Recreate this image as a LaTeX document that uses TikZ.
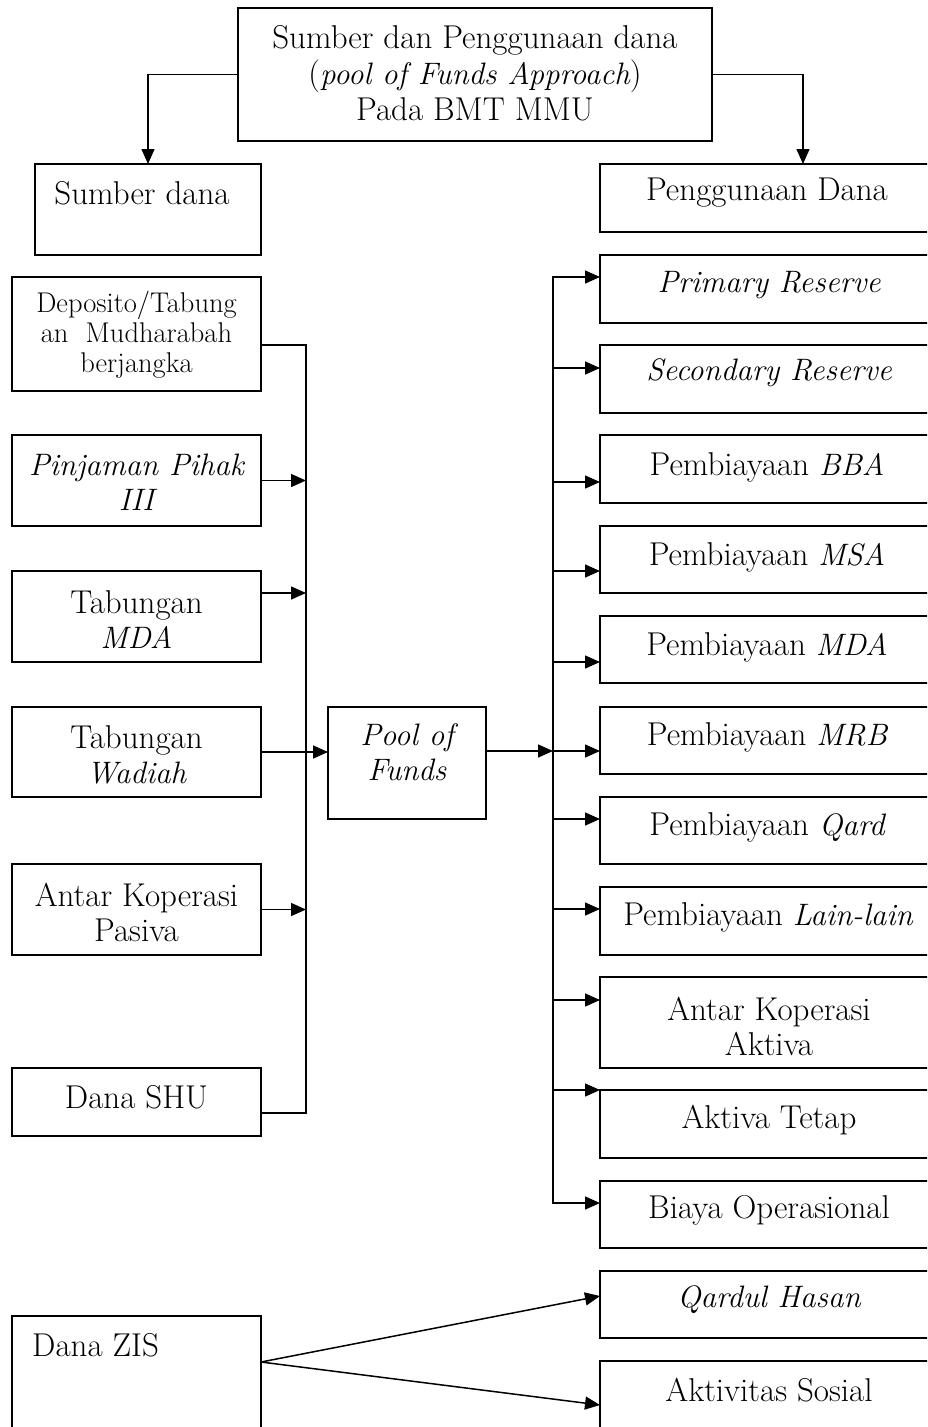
\documentclass[tikz,border=0pt]{standalone}
\usepackage{fontspec}
\usetikzlibrary{arrows.meta}
\newcommand\ital[1]{{\fontsize{31}{35}\selectfont\itshape #1}}
\begin{document}
\begin{tikzpicture}[x=1pt,y=-1pt,
  box/.style={draw, line width=1.5pt, inner sep=0pt, outer sep=0pt},
  lbl/.style={inner sep=0pt, align=center, font=\fontsize{33}{35}\selectfont},
  arr/.style={line width=1.5pt, -{Triangle[length=15pt,width=13pt]}},
  ln/.style={line width=1.5pt, line cap=rect}]
\clip (0,0) rectangle (927,1427);
% ---------- boxes ----------
\node[box, minimum width=474pt, minimum height=133pt] (top) at (475,74.5) {};
\node[box, minimum width=226pt, minimum height=91pt] (sumber) at (148,209.5) {};
\node[box, minimum width=340pt, minimum height=68pt] (peng) at (770,198) {};
% left column
\node[box, minimum width=249pt, minimum height=114pt] (deposito) at (136.5,334) {};
\node[box, minimum width=249pt, minimum height=91pt] (pinjaman) at (136.5,480.5) {};
\node[box, minimum width=249pt, minimum height=91pt] (tmda) at (136.5,616.5) {};
\node[box, minimum width=249pt, minimum height=90pt] (wadiah) at (136.5,752) {};
\node[box, minimum width=249pt, minimum height=91pt] (pasiva) at (136.5,909.5) {};
\node[box, minimum width=249pt, minimum height=68pt] (shu) at (136.5,1102) {};
\node[box, minimum width=249pt, minimum height=124pt] (zis) at (136.5,1378) {};
% pool
\node[box, minimum width=158pt, minimum height=112pt] (pool) at (407,763) {};
% right column
\node[box, minimum width=340pt, minimum height=68pt] (primary) at (770,289) {};
\node[box, minimum width=340pt, minimum height=68pt] (secondary) at (770,379) {};
\node[box, minimum width=340pt, minimum height=68pt] (bba) at (770,469) {};
\node[box, minimum width=340pt, minimum height=67pt] (msa) at (770,559.5) {};
\node[box, minimum width=340pt, minimum height=67pt] (mdar) at (770,649.5) {};
\node[box, minimum width=340pt, minimum height=67pt] (mrb) at (770,740.5) {};
\node[box, minimum width=340pt, minimum height=67pt] (qard) at (770,830.5) {};
\node[box, minimum width=340pt, minimum height=68pt] (lain) at (770,921) {};
\node[box, minimum width=340pt, minimum height=91pt] (aktiva) at (770,1022.5) {};
\node[box, minimum width=340pt, minimum height=68pt] (tetap) at (770,1124) {};
\node[box, minimum width=340pt, minimum height=67pt] (biaya) at (770,1214.5) {};
\node[box, minimum width=340pt, minimum height=67pt] (qardul) at (770,1304.5) {};
\node[box, minimum width=340pt, minimum height=79pt] (sosial) at (770,1400.5) {};
% ---------- texts ----------
\node[lbl, font=\fontsize{33}{36}\selectfont] (ttop) at (475,73.5) {Sumber dan Penggunaan dana\\(\ital{pool of Funds Approach})\\Pada BMT MMU};
\node[lbl] (tsumber) at (142,193) {Sumber dana};
\node[lbl] (tpeng) at (767,193) {Penggunaan Dana};
\node[lbl, font=\fontsize{28.5}{30}\selectfont] (tdeposito) at (136.5,335) {Deposito/Tabung\\an~~Mudharabah\\berjangka};
\node[lbl] (tpinjaman) at (136.5,482.5) {\ital{Pinjaman Pihak}\\\ital{III}};
\node[lbl] (ttmda) at (136.5,619.5) {Tabungan\\\ital{MDA}};
\node[lbl] (twadiah) at (136.5,754.5) {Tabungan\\\ital{Wadiah}};
\node[lbl] (tpasiva) at (136.5,912.5) {Antar Koperasi\\Pasiva};
\node[lbl] (tshu) at (136.5,1097) {Dana SHU};
\node[lbl, anchor=west] (tzis) at (32,1345) {Dana ZIS};
\node[lbl] (tpool) at (407,752.5) {\ital{Pool of}\\\ital{Funds}};
\node[lbl] (tprimary) at (769,285) {\ital{Primary Reserve}};
\node[lbl] (tsecondary) at (769,373) {\ital{Secondary Reserve}};
\node[lbl] (tbba) at (767,467) {Pembiayaan \ital{BBA}};
\node[lbl] (tmsa) at (767,557) {Pembiayaan \ital{MSA}};
\node[lbl] (tmdar) at (767,647) {Pembiayaan \ital{MDA}};
\node[lbl] (tmrb) at (767,737) {Pembiayaan \ital{MRB}};
\node[lbl] (tqard) at (767,827) {Pembiayaan \ital{Qard}};
\node[lbl] (tlain) at (768,917) {Pembiayaan \ital{Lain-lain}};
\node[lbl] (taktiva) at (769,1026) {Antar Koperasi\\Aktiva};
\node[lbl] (ttetap) at (769,1120) {Aktiva Tetap};
\node[lbl] (tbiaya) at (769,1210) {Biaya Operasional};
\node[lbl] (tqardul) at (769,1300) {\ital{Qardul Hasan}};
\node[lbl] (tsosial) at (769,1390) {Aktivitas Sosial};
% ---------- connectors ----------
\draw[arr] (top.west) -| (sumber.north);
\draw[arr] (top.east) -| ([xshift=33pt]peng.north);
% left bus
\coordinate (lbTop) at (306,345);
\coordinate (lbBot) at (306,1113);
\coordinate (ymda) at (0,593);
\draw[ln] (deposito.east |- lbTop) -- (lbTop) -- (lbBot) -- (shu.east |- lbBot);
\draw[arr] (pinjaman.east) -- (pinjaman.east -| lbTop);
\draw[arr] (tmda.east |- ymda) -- (lbTop |- ymda);
\draw[arr] (wadiah.east) -- (wadiah.east -| pool.west);
\draw[arr] (pasiva.east) -- (pasiva.east -| lbTop);
% right bus
\coordinate (r1) at (553,277);
\coordinate (r2) at (553,368);
\coordinate (r3) at (553,482);
\coordinate (r4) at (553,571);
\coordinate (r5) at (553,662);
\coordinate (r6) at (553,751);
\coordinate (r7) at (553,819);
\coordinate (r8) at (553,909);
\coordinate (r9) at (553,1000);
\coordinate (r10) at (553,1090);
\coordinate (r11) at (553,1203);
\draw[ln] (r1) -- (r11);
\draw[arr] (pool.east |- r6) -- (r6);
\draw[arr] (r1) -- (r1 -| primary.west);
\draw[arr] (r2) -- (r2 -| secondary.west);
\draw[arr] (r3) -- (r3 -| bba.west);
\draw[arr] (r4) -- (r4 -| msa.west);
\draw[arr] (r5) -- (r5 -| mdar.west);
\draw[arr] (r6) -- (r6 -| mrb.west);
\draw[arr] (r7) -- (r7 -| qard.west);
\draw[arr] (r8) -- (r8 -| lain.west);
\draw[arr] (r9) -- (r9 -| aktiva.west);
\draw[arr] (r10) -- (r10 -| tetap.west);
\draw[arr] (r11) -- (r11 -| biaya.west);
% ZIS
\coordinate (zo) at (261,1362);
\coordinate (zq) at (600,1296);
\coordinate (zs) at (600,1405);
\draw[arr] (zis.east |- zo) -- (qardul.west |- zq);
\draw[arr] (zis.east |- zo) -- (sosial.west |- zs);
\end{tikzpicture}
\end{document}
